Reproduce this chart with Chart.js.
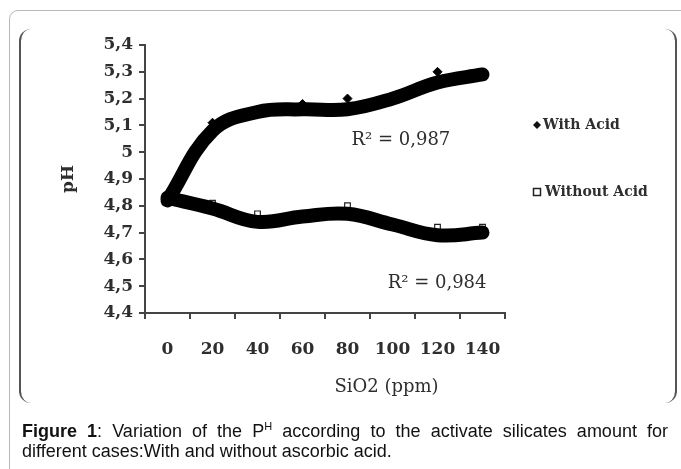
<!DOCTYPE html>
<html><head><meta charset="utf-8">
<script src="https://cdn.jsdelivr.net/npm/chart.js@4"></script>
<style>
html,body{margin:0;padding:0;background:#fff;width:681px;height:469px;overflow:hidden;position:relative;}
#outer{position:absolute;left:9px;top:10px;width:700px;height:500px;border:1px solid #b8b8b8;border-radius:9px;}
#inner{position:absolute;left:19px;top:29px;width:654px;height:374px;border-left:2px solid #555;border-right:2px solid #555;border-radius:12px;}
#wrap{position:absolute;left:0;top:0;width:681px;height:469px;}
#cap{position:absolute;left:22px;top:421px;width:646px;font-family:"Liberation Sans",Arial,sans-serif;font-size:18px;line-height:20px;color:#111;}
#cap .l1{text-align:justify;text-align-last:justify;white-space:nowrap;}
#cap sup{font-size:11px;vertical-align:7px;line-height:0;}
</style></head>
<body>
<div id="outer"></div>
<div id="inner"></div>
<div id="wrap"><canvas id="c" width="681" height="469"></canvas></div>
<div id="cap"><div class="l1"><b>Figure 1</b>: Variation of the P<sup>H</sup> according to the activate silicates amount for</div><div>different cases:With and without ascorbic acid.</div></div>
<script>
const categories = ['0','20','40','60','80','100','120','140'];
const withAcid = [4.82, 5.11, 5.15, 5.18, 5.20, 5.20, 5.30, 5.29];
const withoutAcid = [4.82, 4.81, 4.77, 4.77, 4.80, 4.74, 4.72, 4.72];
const withAcidTrend = [4.82, 5.08, 5.15, 5.16, 5.16, 5.20, 5.26, 5.29];
const withoutAcidTrend = [4.83, 4.79, 4.74, 4.76, 4.77, 4.73, 4.69, 4.70];
const seriesNames = ['With Acid', 'Without Acid'];
const r2Labels = ['R\u00B2 = 0,987', 'R\u00B2 = 0,984'];
const xTitle = 'SiO2 (ppm)';
const yTitle = 'pH';

const SERIF = '"DejaVu Serif", "Liberation Serif", serif';
const TXT = '#2e2e2e';

const annot = {
  id: 'annot',
  afterDraw(chart) {
    const {ctx, chartArea: a, scales: {x, y}} = chart;
    ctx.save();
    ctx.fillStyle = TXT;
    ctx.textBaseline = 'middle';
    ctx.font = '18px ' + SERIF;
    ctx.textAlign = 'left';
    ctx.fillText(r2Labels[0], x.getPixelForValue(4) + 4, y.getPixelForValue(5.045));
    ctx.textAlign = 'right';
    ctx.fillText(r2Labels[1], x.getPixelForValue(7) + 4, y.getPixelForValue(4.512));
    ctx.textAlign = 'center';
    ctx.font = '18px ' + SERIF;
    ctx.fillText(xTitle, x.getPixelForValue(4) + 39, a.bottom + 74);
    // legend
    const lx = a.right + 32;
    const ly1 = a.top + 80, ly2 = a.top + 147;
    ctx.fillStyle = '#111';
    ctx.beginPath();
    ctx.moveTo(lx, ly1 - 4); ctx.lineTo(lx + 4, ly1); ctx.lineTo(lx, ly1 + 4); ctx.lineTo(lx - 4, ly1);
    ctx.closePath(); ctx.fill();
    ctx.strokeStyle = '#222'; ctx.lineWidth = 1.5;
    ctx.strokeRect(lx - 3.5, ly2 - 3.5, 7, 7);
    ctx.fillStyle = TXT;
    ctx.font = 'bold 14px ' + SERIF;
    ctx.textAlign = 'left';
    ctx.fillText(seriesNames[0], lx + 6, ly1);
    ctx.fillText(seriesNames[1], lx + 8, ly2);
    ctx.restore();
  }
};

const fmt = v => String(Number(Number(v).toFixed(1))).replace('.', ',');

new Chart(document.getElementById('c'), {
  type: 'line',
  data: {
    labels: categories,
    datasets: [
      {label: seriesNames[0] + ' trend', data: withAcidTrend, borderColor: '#000', borderWidth: 14, pointRadius: 0, tension: 0.4, fill: false, order: 0, borderCapStyle: 'round'},
      {label: seriesNames[1] + ' trend', data: withoutAcidTrend, borderColor: '#000', borderWidth: 14, pointRadius: 0, tension: 0.4, fill: false, order: 0, borderCapStyle: 'round'},
      {label: seriesNames[0], data: withAcid, showLine: false, pointStyle: 'rectRot', pointRadius: 4.5, pointBackgroundColor: '#000', pointBorderColor: '#000', order: 1},
      {label: seriesNames[1], data: withoutAcid, showLine: false, pointStyle: 'rect', pointRadius: 4, pointBackgroundColor: '#fff', pointBorderColor: '#222', pointBorderWidth: 1.2, order: 1}
    ]
  },
  options: {
    responsive: false,
    animation: false,
    events: [],
    layout: {padding: {top: 45, right: 176, bottom: 96, left: 0}},
    plugins: {legend: {display: false}, tooltip: {enabled: false}},
    scales: {
      x: {
        type: 'category',
        offset: true,
        grid: {display: true, offset: true, drawOnChartArea: false, drawTicks: true, tickLength: 6, color: '#444', lineWidth: 2},
        border: {display: true, color: '#444', width: 2},
        ticks: {color: TXT, font: {family: SERIF, size: 17, weight: 'bold'}, padding: 20, maxRotation: 0, autoSkip: false},
        afterFit(s) { s.height = 60; }
      },
      y: {
        min: 4.4, max: 5.4,
        grid: {display: true, drawOnChartArea: false, drawTicks: true, tickLength: 6, color: '#444', lineWidth: 2},
        border: {display: true, color: '#444', width: 2},
        ticks: {stepSize: 0.1, color: TXT, font: {family: SERIF, size: 17, weight: 'bold'}, padding: 6, callback: v => fmt(v)},
        title: {display: true, text: yTitle, color: TXT, font: {family: SERIF, size: 17, weight: 'bold'}, padding: {top: 58, bottom: 0}},
        afterFit(s) { s.width = 145; }
      }
    }
  },
  plugins: [annot]
});
</script>
</body></html>
